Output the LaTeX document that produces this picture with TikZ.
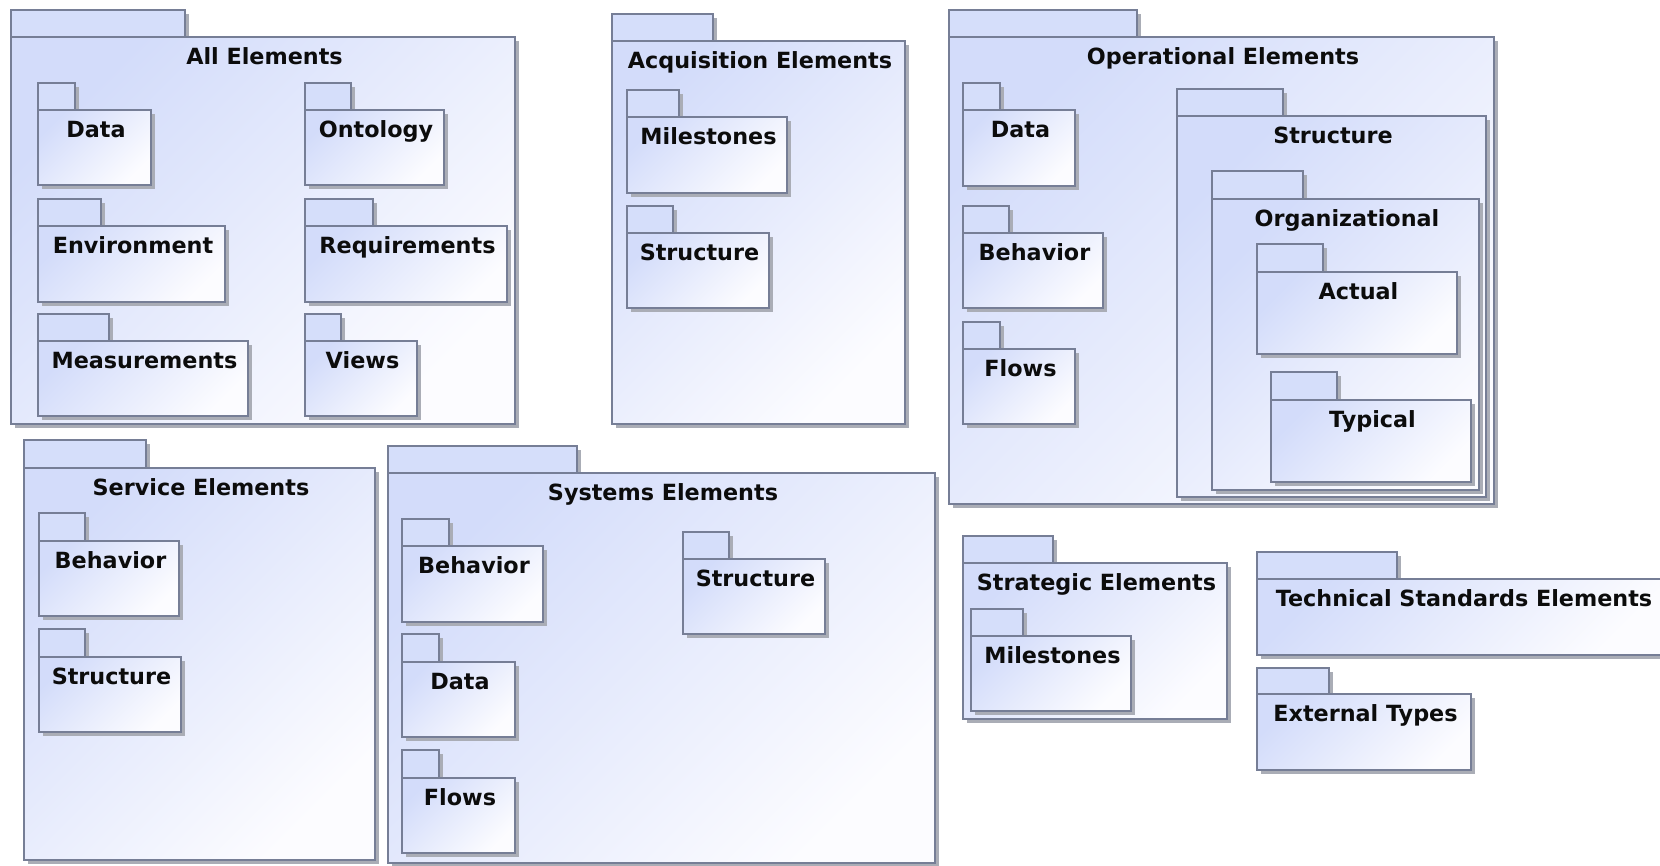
\documentclass[tikz,border=0pt]{standalone}
\usepackage{fontspec}
\setmainfont{DejaVu Sans}
\definecolor{bordc}{RGB}{118,126,150}
\definecolor{tabc}{RGB}{213,222,250}
\definecolor{bodytop}{RGB}{211,220,250}
\definecolor{bodybot}{RGB}{252,252,255}
\definecolor{shadc}{RGB}{170,173,182}
\definecolor{txtc}{RGB}{12,12,12}
\tikzset{
  border/.style={draw=bordc, line width=1.2pt},
  pkgshadow/.style={fill=shadc},
  pkgtab/.style={border, fill=tabc},
  pkgbody/.style={top color=bodytop, bottom color=bodybot, shading angle=45},
  lbl/.style={anchor=base, inner sep=0pt, text=txtc, font=\fontsize{22.3}{27}\selectfont\bfseries}
}
% #1 name, #2 left x, #3 tab top, #4 tab right, #5 body top, #6 body right, #7 body bottom, #8 label
\newcommand\umlpkg[8]{%
  \fill[pkgshadow] (#2+4,#3+4) rectangle (#4+4,#5+4);
  \fill[pkgshadow] (#2+4,#5+4) rectangle (#6+4,#7+4);
  \draw[pkgtab] (#2,#3) rectangle (#4,#5);
  \shade[pkgbody] (#2,#5) rectangle (#6,#7);
  \draw[border] (#2,#5) rectangle (#6,#7);
  \node[lbl] (#1) at ({(#2+#6)/2+1.5},#5+27) {#8};
}
\begin{document}
\begin{tikzpicture}[x=1pt,y=-1pt]
\useasboundingbox[fill=white] (0,0) rectangle (1660,865);
% All Elements
\umlpkg{all}{11}{10}{185}{37}{515}{424}{All Elements}
\umlpkg{allData}{38}{83}{75}{110}{151}{185}{Data}
\umlpkg{allEnv}{38}{199}{101}{226}{225}{302}{Environment}
\umlpkg{allMeas}{38}{314}{109}{341}{248}{416}{Measurements}
\umlpkg{allOnt}{305}{83}{351}{110}{444}{185}{Ontology}
\umlpkg{allReq}{305}{199}{373}{226}{507}{302}{Requirements}
\umlpkg{allViews}{305}{314}{341}{341}{417}{416}{Views}
% Acquisition Elements
\umlpkg{acq}{612}{14}{713}{41}{905}{424}{Acquisition Elements}
\umlpkg{acqMil}{627}{90}{679}{117}{787}{193}{Milestones}
\umlpkg{acqStr}{627}{206}{673}{233}{769}{308}{Structure}
% Operational Elements
\umlpkg{op}{949}{10}{1137}{37}{1494}{504}{Operational Elements}
\umlpkg{opData}{963}{83}{1000}{110}{1075}{186}{Data}
\umlpkg{opBeh}{963}{206}{1009}{233}{1103}{308}{Behavior}
\umlpkg{opFlows}{963}{322}{1000}{349}{1075}{424}{Flows}
\umlpkg{opStr}{1177}{89}{1283}{116}{1486}{497}{Structure}
\umlpkg{opOrg}{1212}{171}{1303}{199}{1479}{490}{Organizational}
\umlpkg{opAct}{1257}{244}{1323}{272}{1457}{354}{Actual}
\umlpkg{opTyp}{1271}{372}{1337}{400}{1471}{482}{Typical}
% Service Elements
\umlpkg{svc}{24}{440}{146}{468}{375}{860}{Service Elements}
\umlpkg{svcBeh}{39}{513}{85}{541}{179}{616}{Behavior}
\umlpkg{svcStr}{39}{629}{85}{657}{181}{732}{Structure}
% Systems Elements
\umlpkg{sys}{388}{446}{577}{473}{935}{863}{Systems Elements}
\umlpkg{sysBeh}{402}{519}{449}{546}{543}{622}{Behavior}
\umlpkg{sysData}{402}{634}{439}{662}{515}{737}{Data}
\umlpkg{sysFlows}{402}{750}{439}{778}{515}{853}{Flows}
\umlpkg{sysStr}{683}{532}{729}{559}{825}{634}{Structure}
% Strategic Elements
\umlpkg{strat}{963}{536}{1053}{563}{1227}{719}{Strategic Elements}
\umlpkg{stratMil}{971}{609}{1023}{636}{1131}{711}{Milestones}
% Technical Standards Elements / External Types
\umlpkg{tech}{1257}{552}{1397}{579}{1668}{655}{Technical Standards Elements}
\umlpkg{ext}{1257}{668}{1329}{694}{1471}{770}{External Types}
\end{tikzpicture}
\end{document}
